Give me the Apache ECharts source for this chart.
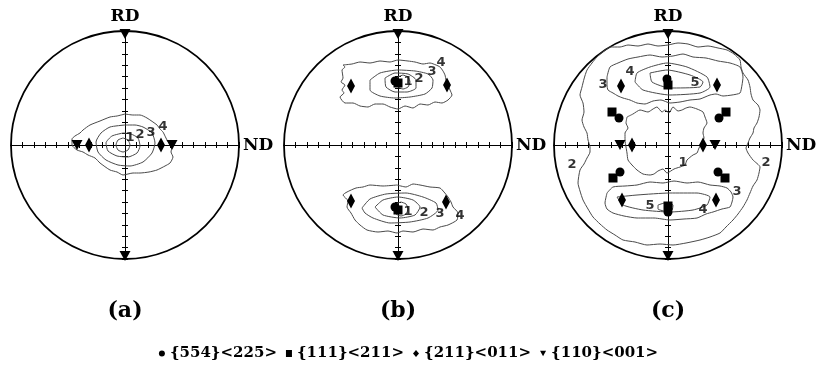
<!DOCTYPE html>
<html>
<head>
<meta charset="utf-8">
<script src="https://cdn.jsdelivr.net/npm/echarts/dist/echarts.min.js"></script>
<style>html,body{margin:0;padding:0;background:#fff}#main{width:817px;height:365px}</style>
</head>
<body>
<div id="main"></div>
<script>
// pole figure coords: offsets from centre, circle radius = 114
const a_lv1 = [[-2,7],[-7,5],[-9,0],[-7,-5],[-2,-7],[3,-5],[5,0],[3,5],[-2,7]];
const a_lv2 = [[-2,12],[-13,9],[-19,2],[-17,-6],[-8,-11],[3,-12],[12,-8],[15,-1],[13,7],[6,11],[-2,12]];
const a_lv3 = [[0,20],[-15,18],[-24,12],[-29,3],[-27,-7],[-19,-15],[-7,-20],[5,-21],[18,-17],[27,-8],[30,2],[27,12],[18,18],[10,20],[0,20]];
const a_lv4 = [[0,31],[-8,29],[-15,28],[-25,24],[-35,20],[-42,15],[-45,12],[-50,9],[-53,6],[-53,0],[-48,-5],[-42,-7],[-37,-10],[-30,-13],[-25,-18],[-15,-25],[-8,-27],[-2,-30],[8,-28],[15,-28],[24,-27],[32,-25],[40,-21],[45,-18],[48,-12],[46,-7],[47,-2],[44,2],[42,5],[40,9],[38,13],[35,16],[32,20],[22,27],[15,30],[8,30],[0,31]];
const a_tri = [[0,111],[0,-111],[-48,0],[47,0]];
const a_dia = [[-36,0],[36,0]];
const a_lbl = [[5,7,'1'],[15,10,'2'],[26,12,'3'],[38,18,'4']];

const b_top1 = [[5,70],[0,68],[-2,63],[0,58],[5,56],[10,58],[12,63],[10,68],[5,70]];
const b_top2 = [[-13,67],[-3,72],[10,71],[18,65],[18,57],[9,53],[-3,53],[-12,58],[-13,67]];
const b_top3 = [[-28,65],[-18,72],[0,75],[17,74],[30,71],[35,65],[34,57],[27,51],[12,48],[-3,47],[-18,49],[-28,55],[-28,65]];
const b_top4 = [[-55,80],[-46,81],[-38,83],[-28,82],[-18,84],[-8,83],[0,85],[10,84],[17,83],[25,81],[32,82],[38,80],[42,78],[45,74],[47,70],[48,65],[50,60],[52,55],[54,50],[50,45],[44,42],[37,43],[30,40],[22,41],[15,37],[7,39],[0,36],[-8,38],[-15,41],[-23,41],[-30,38],[-38,39],[-45,42],[-53,42],[-58,48],[-54,52],[-56,55],[-53,60],[-57,63],[-55,67],[-56,75],[-53,78],[-55,80]];
const b_bot1 = [[3,-57],[-2,-59],[-4,-64],[-2,-69],[3,-71],[8,-69],[10,-64],[8,-59],[3,-57]];
const b_bot2 = [[-23,-62],[-15,-55],[0,-52],[15,-55],[22,-62],[17,-70],[2,-73],[-15,-70],[-23,-62]];
const b_bot3 = [[-36,-63],[-28,-54],[-12,-49],[8,-48],[25,-52],[38,-58],[40,-65],[30,-73],[12,-77],[-8,-78],[-25,-73],[-33,-68],[-36,-63]];
const b_bot4 = [[-1,-40],[8,-42],[15,-39],[22,-40],[32,-42],[42,-43],[46,-47],[50,-52],[53,-57],[55,-62],[60,-68],[59,-75],[50,-80],[42,-82],[35,-85],[25,-84],[15,-87],[5,-86],[-1,-88],[-10,-86],[-20,-87],[-31,-85],[-38,-80],[-43,-75],[-47,-68],[-51,-62],[-50,-56],[-55,-50],[-51,-47],[-42,-43],[-35,-42],[-28,-40],[-15,-41],[-1,-40]];
const b_circ = [[-3,64],[-3,-62]];
const b_sq = [[0,62],[0,-65]];
const b_dia = [[-47,59],[49,60],[-47,-56],[48,-57]];
const b_tri = [[0,111],[0,-111]];
const b_lbl = [[10,63,'1'],[21,66,'2'],[34,73,'3'],[43,82,'4'],[10,-67,'1'],[26,-68,'2'],[42,-69,'3'],[62,-71,'4']];

const c_lv2 = [[-58,98],[-48,98],[-40,100],[-30,99],[-20,101],[-10,99],[0,100],[10,102],[20,101],[30,98],[40,99],[50,97],[59,95],[66,91],[72,85],[73,78],[75,72],[80,65],[82,58],[83,51],[85,45],[90,40],[92,35],[91,28],[89,22],[86,17],[85,12],[82,7],[80,2],[78,-3],[80,-8],[85,-15],[92,-22],[91,-28],[89,-35],[85,-41],[82,-48],[79,-55],[75,-62],[70,-69],[65,-75],[58,-82],[52,-88],[42,-92],[32,-95],[18,-98],[5,-100],[-8,-99],[-21,-100],[-33,-97],[-45,-95],[-53,-90],[-61,-85],[-68,-79],[-75,-72],[-80,-64],[-85,-55],[-88,-46],[-90,-38],[-88,-25],[-84,-19],[-81,-13],[-78,-7],[-78,-2],[-80,5],[-81,12],[-84,18],[-86,25],[-84,33],[-85,42],[-88,50],[-86,58],[-84,66],[-81,75],[-76,82],[-71,88],[-64,94],[-58,98]];
const c_lv1 = [[-41,28],[-35,31],[-28,35],[-20,33],[-15,36],[-11,38],[-6,33],[-3,35],[1,32],[5,38],[10,34],[14,35],[18,37],[22,38],[29,36],[35,33],[37,28],[39,22],[36,17],[35,12],[36,7],[34,2],[31,-3],[29,-8],[25,-10],[19,-15],[17,-20],[12,-22],[6,-24],[-1,-28],[-5,-24],[-10,-26],[-14,-29],[-18,-30],[-25,-29],[-31,-25],[-36,-20],[-40,-15],[-41,-8],[-42,-2],[-43,5],[-43,12],[-40,17],[-42,22],[-41,28]];
const c_top3 = [[-61,68],[-58,78],[-50,82],[-40,86],[-30,88],[-18,90],[-6,88],[5,89],[15,91],[25,88],[38,87],[50,84],[62,82],[72,78],[75,68],[74,60],[72,52],[64,50],[55,49],[48,51],[42,50],[32,46],[22,45],[12,43],[2,42],[-7,45],[-15,44],[-23,41],[-31,42],[-38,45],[-45,47],[-50,49],[-55,52],[-60,55],[-61,60],[-61,68]];
const c_top4 = [[-33,63],[-31,72],[-18,78],[-1,82],[19,78],[39,68],[42,58],[32,52],[2,50],[-25,55],[-33,63]];
const c_top5 = [[-18,72],[-1,75],[22,70],[35,63],[32,58],[2,57],[-16,63],[-18,72]];
const c_bot3 = [[-61,-48],[-55,-42],[-43,-41],[-31,-40],[-18,-37],[-5,-38],[6,-36],[19,-38],[30,-37],[42,-40],[52,-41],[59,-43],[63,-47],[65,-52],[64,-57],[62,-62],[54,-64],[45,-67],[38,-69],[29,-73],[16,-74],[2,-75],[-14,-73],[-31,-73],[-44,-71],[-55,-68],[-61,-64],[-63,-58],[-61,-48]];
const c_bot4 = [[-51,-52],[-31,-50],[2,-48],[29,-48],[42,-52],[39,-60],[25,-65],[2,-67],[-25,-65],[-45,-60],[-51,-52]];
const c_bot5 = [[-10,-60],[-3,-58],[5,-60],[4,-65],[-3,-66],[-10,-64],[-10,-60]];
const c_circ = [[-1,66],[-49,27],[51,27],[-48,-27],[50,-27],[0,-67]];
const c_sq = [[0,60],[-56,33],[58,33],[-55,-33],[57,-33],[0,-61]];
const c_dia = [[-47,59],[49,60],[-36,0],[35,0],[-46,-55],[48,-55]];
const c_tri = [[0,111],[0,-111],[-48,0],[47,0]];
const c_lbl = [[-65,60,'3'],[-38,73,'4'],[27,62,'5'],[15,-18,'1'],[-96,-20,'2'],[98,-18,'2'],[69,-47,'3'],[35,-65,'4'],[-18,-61,'5']];

const panelNames = ['(a)', '(b)', '(c)'];
const legendNames = ['{554}<225>', '{111}<211>', '{211}<011>', '{110}<001>'];

const R = 114;
const TICK = 11.4;
const CX = [125, 398, 668];
const CY = 145;

const panels = [
  { contours: [a_lv1, a_lv2, a_lv3, a_lv4], circ: [], sq: [], dia: a_dia, tri: a_tri, lbl: a_lbl },
  { contours: [b_top1, b_top2, b_top3, b_top4, b_bot1, b_bot2, b_bot3, b_bot4], circ: b_circ, sq: b_sq, dia: b_dia, tri: b_tri, lbl: b_lbl },
  { contours: [c_lv1, c_lv2, c_top3, c_top4, c_top5, c_bot3, c_bot4, c_bot5], circ: c_circ, sq: c_sq, dia: c_dia, tri: c_tri, lbl: c_lbl }
];

const markerStyle = [
  { key: 'circ', symbol: 'circle', size: 9, rot: 0, icon: 'circle' },
  { key: 'sq', symbol: 'rect', size: 9, rot: 0, icon: 'rect' },
  { key: 'dia', symbol: 'diamond', size: [8, 15], rot: 0, icon: 'diamond' },
  { key: 'tri', symbol: 'triangle', size: [11, 10], rot: 180, icon: 'path://M0,0L10,0L5,9Z' }
];

function axis(p, dim, mirror) {
  return {
    type: 'value', gridIndex: p, min: -R, max: R, interval: TICK,
    position: mirror ? (dim === 'x' ? 'top' : 'right') : (dim === 'x' ? 'bottom' : 'left'),
    axisLine: { show: true, onZero: true, onZeroAxisIndex: 2 * p, lineStyle: { color: '#000', width: 1 } },
    axisTick: { show: true, length: 3, lineStyle: { color: '#000', width: 1 } },
    axisLabel: { show: false },
    splitLine: { show: false }
  };
}

const grid = [], xAxis = [], yAxis = [], polar = [], angleAxis = [], radiusAxis = [], series = [], graphic = [];

panels.forEach((pn, p) => {
  grid.push({ left: CX[p] - R, top: CY - R, width: 2 * R, height: 2 * R, containLabel: false, outerBoundsMode: 'none' });
  xAxis.push(axis(p, 'x', false), axis(p, 'x', true));
  yAxis.push(axis(p, 'y', false), axis(p, 'y', true));
  polar.push({ center: [CX[p], CY], radius: R });
  angleAxis.push({ polarIndex: p, type: 'value', min: 0, max: 360,
    axisLine: { lineStyle: { color: '#000', width: 1.8 } },
    axisTick: { show: false }, axisLabel: { show: false }, splitLine: { show: false } });
  radiusAxis.push({ polarIndex: p, type: 'value', min: 0, max: 1, show: false });

  pn.contours.forEach(c => {
    series.push({ type: 'line', xAxisIndex: 2 * p, yAxisIndex: 2 * p, data: c,
      smooth: 0.2, showSymbol: false, silent: true, z: 2,
      lineStyle: { color: '#4a4a4a', width: 1 } });
  });
  markerStyle.forEach((m, i) => {
    if (!pn[m.key].length) return;
    series.push({ type: 'scatter', name: legendNames[i], xAxisIndex: 2 * p, yAxisIndex: 2 * p,
      data: pn[m.key], symbol: m.symbol, symbolSize: m.size, symbolRotate: m.rot, z: 5,
      itemStyle: { color: '#000', opacity: 1 } });
  });
  series.push({ type: 'scatter', xAxisIndex: 2 * p, yAxisIndex: 2 * p, data: pn.lbl,
    symbolSize: 0, silent: true, z: 6, encode: { x: 0, y: 1 },
    label: { show: true, position: 'inside', formatter: d => d.value[2],
      color: '#000', fontSize: 13, fontWeight: 'bold', fontFamily: 'DejaVu Sans' } });

  graphic.push({ type: 'text', x: CX[p], y: 17, style: { text: 'RD', align: 'center', verticalAlign: 'middle',
    font: 'bold 17px "DejaVu Serif"', fill: '#000' } });
  graphic.push({ type: 'text', x: CX[p] + R + 4, y: 146, style: { text: 'ND', align: 'left', verticalAlign: 'middle',
    font: 'bold 17px "DejaVu Serif"', fill: '#000' } });
  graphic.push({ type: 'text', x: CX[p], y: 311, style: { text: panelNames[p], align: 'center', verticalAlign: 'middle',
    font: 'bold 22px "DejaVu Serif"', fill: '#000' } });
});

const chart = echarts.init(document.getElementById('main'), null, { renderer: 'canvas' });
chart.setOption({
  animation: false,
  backgroundColor: '#fff',
  grid, xAxis, yAxis, polar, angleAxis, radiusAxis, series, graphic,
  legend: {
    data: legendNames.map((n, i) => ({ name: n, icon: markerStyle[i].icon })),
    top: 341, left: 'center', itemWidth: 6, itemHeight: 7, itemGap: 9,
    selectedMode: false,
    textStyle: { fontFamily: 'DejaVu Serif', fontWeight: 'bold', fontSize: 15, color: '#000' }
  }
});
</script>
</body>
</html>
